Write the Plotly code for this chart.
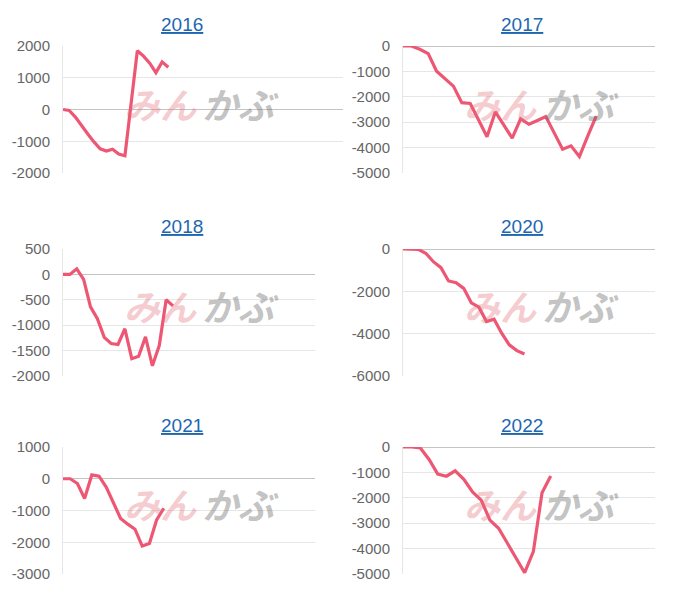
import plotly.graph_objects as go

# ---- data ----
years = ["2016", "2017", "2018", "2020", "2021", "2022"]

v2016 = [0, -30, -240, -520, -770, -1020, -1240, -1310, -1250, -1400, -1455,
         200, 1850, 1680, 1460, 1160, 1500, 1330]
v2017 = [0, 0, -130, -300, -990, -1280, -1580, -2230, -2260, -2910, -3570,
         -2590, -3110, -3630, -2870, -3080, -2930, -2780, -3420, -4060,
         -3930, -4350, -3540, -2760]
v2018 = [0, 0, 110, -100, -640, -870, -1240, -1360, -1380, -1070, -1660,
         -1610, -1230, -1800, -1400, -500, -620]
v2020 = [0, 0, -20, -200, -600, -880, -1510, -1590, -1860, -2540, -2750,
         -3430, -3320, -3980, -4530, -4800, -4960]
v2021 = [0, 0, -150, -620, 120, 80, -260, -780, -1250, -1430, -1590,
         -2120, -2040, -1300, -930]
v2022 = [0, 0, -40, -490, -1070, -1150, -940, -1270, -1770, -2090, -2880,
         -3200, -3780, -4380, -4950, -4120, -1800, -1140]

series = [v2016, v2017, v2018, v2020, v2021, v2022]

ticks2016 = [-2000, -1000, 0, 1000, 2000]
ticks2017 = [-5000, -4000, -3000, -2000, -1000, 0]
ticks2018 = [-2000, -1500, -1000, -500, 0, 500]
ticks2020 = [-6000, -4000, -2000, 0]
ticks2021 = [-3000, -2000, -1000, 0, 1000]
ticks2022 = [-5000, -4000, -3000, -2000, -1000, 0]
tick_sets = [ticks2016, ticks2017, ticks2018, ticks2020, ticks2021, ticks2022]

watermark_left = "みん"
watermark_right = "かぶ"

# ---- layout (pixel geometry of each panel) ----
W, H = 700, 600
# (x0, x1, ytop, ybottom, x-span in points)
panels = [
    (63, 343, 46, 173, 45.2),
    (403, 655, 46, 173, 30.0),
    (63, 315, 249, 376, 36.65),
    (403, 655, 249, 376, 33.2),
    (63, 315, 447, 574, 35.0),
    (403, 655, 447, 574, 29.0),
]
title_pos = [(182, 24), (522, 24), (182, 226), (522, 226), (182, 425), (522, 425)]
mark_y = [103, 103, 305, 305, 503, 503]

LINE = "#ee5773"
GRID = "#e6e6e6"
ZERO = "#c4c4c4"
TICKC = "#666666"

fig = go.Figure()
annotations = []
layout_axes = {}

for k, (yr, vals, tks, pan) in enumerate(zip(years, series, tick_sets, panels)):
    x0, x1, yt, yb, span = pan
    n = k + 1
    xa = "x" if n == 1 else f"x{n}"
    ya = "y" if n == 1 else f"y{n}"
    fig.add_trace(go.Scatter(
        x=list(range(len(vals))), y=vals, mode="lines",
        line=dict(color=LINE, width=3.2), xaxis=xa, yaxis=ya,
        showlegend=False, hoverinfo="skip", cliponaxis=False))
    xkey = "xaxis" if n == 1 else f"xaxis{n}"
    ykey = "yaxis" if n == 1 else f"yaxis{n}"
    layout_axes[xkey] = dict(
        domain=[x0 / W, x1 / W], range=[0, span], anchor=ya,
        showgrid=False, zeroline=False, showticklabels=False, showline=False,
        automargin=False, fixedrange=True)
    layout_axes[ykey] = dict(
        domain=[1 - yb / H, 1 - yt / H], range=[min(tks), max(tks)], anchor=xa,
        tickmode="array", tickvals=tks, ticktext=[str(t) for t in tks],
        showgrid=True, gridcolor=GRID, gridwidth=1,
        zeroline=True, zerolinecolor=ZERO, zerolinewidth=1,
        showline=True, linecolor=GRID, linewidth=1,
        ticks="", ticklabelstandoff=9, automargin=False,
        tickfont=dict(family="Liberation Sans, Arial, sans-serif", size=15, color=TICKC),
        fixedrange=True)
    tx, ty = title_pos[k]
    annotations.append(dict(
        text=f"<u>{yr}</u>", x=tx / W, y=1 - ty / H, xref="paper", yref="paper",
        xanchor="center", yanchor="middle", showarrow=False,
        font=dict(family="Liberation Sans, Arial, sans-serif", size=19, color="#1d67b0")))
    # watermark
    cx = 200 if x0 < 300 else 540
    my = mark_y[k]
    annotations.append(dict(
        text=f"<b>{watermark_left}</b>", x=(cx - 40) / W, y=1 - my / H,
        xref="paper", yref="paper", xanchor="center", yanchor="middle", showarrow=False,
        font=dict(family="Noto Sans CJK JP", size=36, style="italic",
                  color="rgba(226,110,120,0.36)")))
    annotations.append(dict(
        text=f"<b>{watermark_right}</b>", x=(cx + 40) / W, y=1 - my / H,
        xref="paper", yref="paper", xanchor="center", yanchor="middle", showarrow=False,
        font=dict(family="Noto Sans CJK JP", size=36, style="italic",
                  color="rgba(110,110,110,0.42)")))

fig.update_layout(
    template="none",
    width=W, height=H, margin=dict(l=0, r=0, t=0, b=0, autoexpand=False),
    paper_bgcolor="white", plot_bgcolor="white",
    annotations=annotations, **layout_axes)

fig.write_html("out.html", config={"displayModeBar": False},
               post_script="document.body.style.margin='0';")
